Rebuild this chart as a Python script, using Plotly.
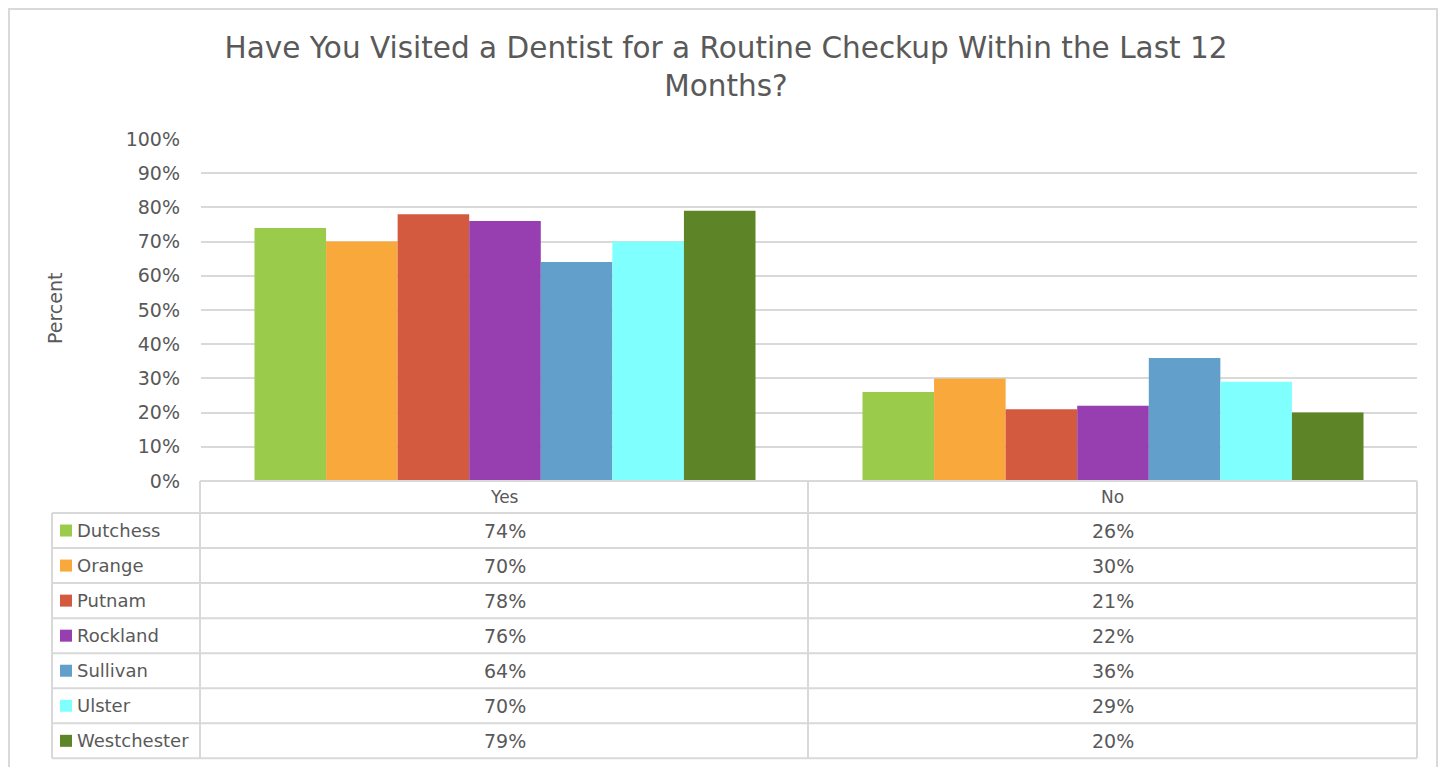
import plotly.graph_objects as go

W, H = 1450, 767

answers = ["Yes", "No"]
counties = ["Dutchess", "Orange", "Putnam", "Rockland", "Sullivan", "Ulster", "Westchester"]
yes_pct = [74, 70, 78, 76, 64, 70, 79]
no_pct = [26, 30, 21, 22, 36, 29, 20]
colors = ["#9BCB4B", "#F9A83C", "#D35A3F", "#973FB1", "#62A0CB", "#80FFFF", "#5E8428"]
ytick_vals = [0, 10, 20, 30, 40, 50, 60, 70, 80, 90, 100]
ytick_text = [f"{v}%" for v in ytick_vals]

FONT = "DejaVu Sans, sans-serif"
TXT = "#595959"
GRID = "#D9D9D9"

# the page body adds an 8px margin, so positions are shifted back by that much
OFF = 8


def px(x):
    return (x - OFF) / W


def py(y):
    return 1 - (y - OFF) / H


# plot area in pixels (as seen on screen)
PL, PR, PT, PB = 201, 1417, 139, 481
TBL_L = 52
COL_MID = 808
ROW_TOP = 513
ROW_H = 35.05

fig = go.Figure()
for i, name in enumerate(counties):
    fig.add_trace(go.Bar(
        x=answers,
        y=[yes_pct[i], no_pct[i]],
        name=name,
        marker=dict(color=colors[i], line=dict(width=0)),
        showlegend=False,
    ))

shapes = []
annotations = []

# outer chart border (left/top as close to the page edge as the body margin allows)
shapes.append(dict(type="rect", xref="paper", yref="paper",
                   x0=px(9), x1=px(1437), y0=py(800), y1=py(9),
                   line=dict(color=GRID, width=2)))

line_style = dict(color=GRID, width=2)
# table horizontal lines
shapes.append(dict(type="line", xref="paper", yref="paper",
                   x0=px(PL - 1), x1=px(PR), y0=py(PB), y1=py(PB), line=line_style))
n = len(counties)
for r in range(n + 1):
    yy = ROW_TOP + r * ROW_H
    shapes.append(dict(type="line", xref="paper", yref="paper",
                       x0=px(TBL_L), x1=px(PR), y0=py(yy), y1=py(yy), line=line_style))
bottom = ROW_TOP + n * ROW_H
# table vertical lines
shapes.append(dict(type="line", xref="paper", yref="paper",
                   x0=px(TBL_L), x1=px(TBL_L), y0=py(ROW_TOP), y1=py(bottom), line=line_style))
for xx in (PL - 1, COL_MID, PR):
    shapes.append(dict(type="line", xref="paper", yref="paper",
                       x0=px(xx), x1=px(xx), y0=py(PB), y1=py(bottom), line=line_style))

col_centers = [(PL + COL_MID) / 2, (COL_MID + PR) / 2]
for j, a in enumerate(answers):
    annotations.append(dict(text=a, xref="paper", yref="paper",
                            x=px(col_centers[j]), y=py((PB + ROW_TOP) / 2),
                            showarrow=False, xanchor="center", yanchor="middle",
                            font=dict(size=17, color=TXT, family=FONT)))

for i, name in enumerate(counties):
    yc = ROW_TOP + (i + 0.5) * ROW_H
    shapes.append(dict(type="rect", xref="paper", yref="paper",
                       x0=px(60), x1=px(72), y0=py(yc + 6), y1=py(yc - 6),
                       fillcolor=colors[i], line=dict(width=0)))
    annotations.append(dict(text=name, xref="paper", yref="paper",
                            x=px(75), y=py(yc), showarrow=False,
                            xanchor="left", yanchor="middle",
                            font=dict(size=18, color=TXT, family=FONT)))
    for j, vals in enumerate((yes_pct, no_pct)):
        annotations.append(dict(text=f"{vals[i]}%", xref="paper", yref="paper",
                                x=px(col_centers[j]), y=py(yc), showarrow=False,
                                xanchor="center", yanchor="middle",
                                font=dict(size=19, color=TXT, family=FONT)))

annotations.append(dict(text="Percent", xref="paper", yref="paper",
                        x=px(55), y=py(308), showarrow=False, textangle=-90,
                        xanchor="center", yanchor="middle",
                        font=dict(size=19, color=TXT, family=FONT)))

fig.update_layout(
    width=W, height=H,
    margin=dict(l=0, r=0, t=0, b=0, pad=0, autoexpand=False),
    paper_bgcolor="white",
    plot_bgcolor="white",
    barmode="group",
    bargap=0.176,
    bargroupgap=0,
    title=dict(
        text="Have You Visited a Dentist for a Routine Checkup Within the Last 12<br>Months?",
        x=px(726), xanchor="center", y=py(58), yanchor="middle",
        font=dict(size=29.5, color=TXT, family=FONT),
    ),
    xaxis=dict(
        domain=[px(PL), px(PR)],
        showticklabels=False,
        showgrid=False,
        zeroline=False,
        showline=False,
        ticks="",
    ),
    yaxis=dict(
        domain=[py(PB), py(PT)],
        range=[0, 100],
        tickvals=ytick_vals,
        ticktext=ytick_text,
        showgrid=True,
        gridcolor=GRID,
        gridwidth=2,
        zeroline=False,
        showline=False,
        ticks="",
        ticklabelstandoff=20,
        tickfont=dict(size=19, color=TXT, family=FONT),
    ),
    shapes=shapes,
    annotations=annotations,
)

fig.write_html("out.html")
